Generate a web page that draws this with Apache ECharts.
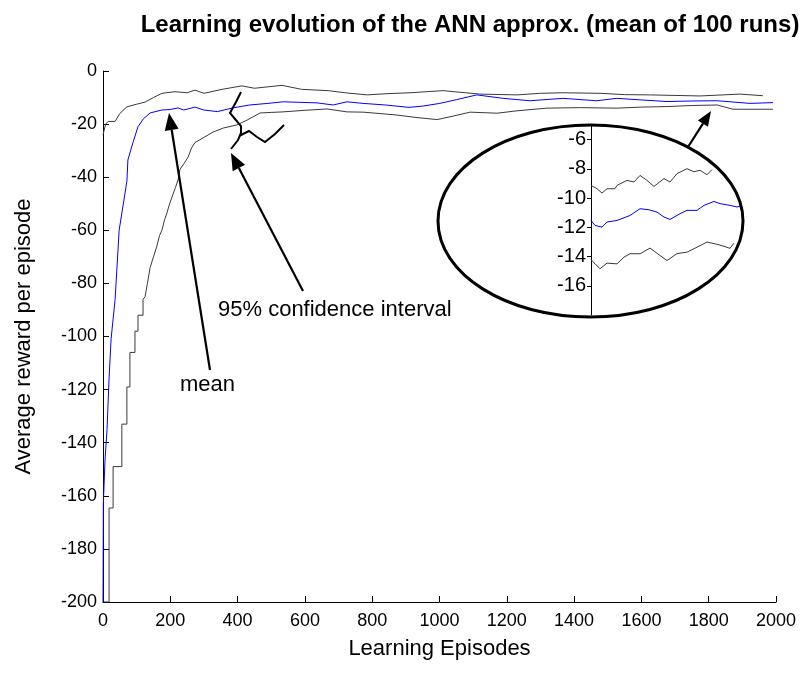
<!DOCTYPE html>
<html>
<head>
<meta charset="utf-8">
<script src="https://cdn.jsdelivr.net/npm/echarts@6/dist/echarts.min.js"></script>
<style>html,body{margin:0;padding:0;background:#fff}#c{width:808px;height:693px}</style>
</head>
<body>
<div id="c"></div>
<script>
// ---- data ----
var titleText = 'Learning evolution of the ANN approx. (mean of 100 runs)';
var xName = 'Learning Episodes';
var yName = 'Average reward per episode';

var meanCurve = [[0,-200],[1,-163],[6,-146.5],[12,-135],[18,-116],[24,-101],[36,-86],[48,-60],[71,-41.5],[74,-33.5],[89,-27],[104,-21],[120,-18],[140,-15.8],[175,-14.7],[200,-14.5],[223,-13.9],[240,-14.7],[273,-13.6],[300,-14.7],[340,-15.3],[386,-13.9],[436,-12.8],[490,-12.2],[535,-11.6],[585,-11.8],[636,-12],[684,-12.8],[725,-11.6],[773,-12.2],[839,-12.8],[909,-13.7],[951,-13.2],[1001,-12.2],[1050,-10.8],[1111,-9],[1189,-10.3],[1269,-11.2],[1367,-10.3],[1467,-11.2],[1527,-10.3],[1600,-10.9],[1676,-11.5],[1750,-11.3],[1825,-11.2],[1923,-12.2],[1991,-11.9]];

var upperCurve = [[0,-24],[8,-20],[15,-19],[36,-19],[50,-16],[71,-13.5],[100,-12.5],[125,-11.7],[150,-10],[175,-8.4],[214,-7.8],[250,-8.2],[273,-7.2],[300,-8.4],[354,-6.9],[413,-5.6],[450,-6.5],[532,-5.4],[590,-6.9],[669,-7.4],[720,-8.2],[785,-9],[850,-8.5],[912,-8.2],[1010,-7.4],[1120,-8.7],[1230,-9],[1300,-8.4],[1367,-8.2],[1477,-8.4],[1550,-8.9],[1627,-9],[1700,-9.2],[1774,-9.4],[1893,-8.7],[1961,-9.3]];

var lowerCurve = [[0,-200],[18,-200],[18,-164.6],[30,-164.6],[30,-149],[56,-149],[56,-133],[71,-133],[71,-119],[80,-119],[80,-106],[95,-106],[95,-98],[104,-98],[104,-92],[119,-92],[119,-86],[125,-85],[132,-80],[140,-74],[150,-70],[160,-66],[168,-62],[175,-60],[183,-56],[190,-53.5],[198,-50],[205,-47.5],[215,-44],[223,-41],[229,-37],[240,-35],[253,-32.4],[263,-29],[273,-27],[300,-25],[327,-23],[357,-21.5],[398,-20.3],[428,-18.5],[467,-15.8],[500,-15.6],[535,-15.4],[600,-14.8],[666,-14.3],[725,-15.4],[773,-15.5],[820,-16],[874,-16.6],[930,-17.5],[993,-18.3],[1040,-17],[1091,-15.5],[1171,-15.9],[1230,-15],[1319,-14],[1418,-13.8],[1527,-14],[1600,-13.6],[1676,-13.4],[1750,-13],[1825,-12.8],[1872,-14.4],[1991,-14.4]];

// inset (zoomed view of the converged part)
var insetUpper = [[0,-9.13],[6,-9.36],[11,-9.66],[16,-9.36],[24,-9.36],[26,-9.13],[36,-8.79],[43,-8.9],[49,-8.45],[56,-8.79],[63,-9.2],[73,-8.67],[79,-8.9],[86,-8.33],[96,-7.99],[103,-8.2],[109,-8.1],[116,-8.4],[121,-8.05]];
var insetMean = [[0,-11.53],[4,-11.87],[11,-11.99],[16,-11.64],[26,-11.53],[31,-11.4],[39,-11.19],[49,-10.73],[58,-10.8],[66,-10.96],[73,-11.3],[79,-11.46],[89,-11.07],[96,-10.84],[106,-10.84],[113,-10.5],[123,-10.23],[129,-10.38],[139,-10.5],[146,-10.61],[149,-10.55]];
var insetLower = [[0,-14.22],[4,-14.49],[9,-14.84],[16,-14.45],[26,-14.5],[33,-14.04],[39,-13.81],[49,-13.81],[59,-13.42],[69,-13.93],[76,-14.27],[86,-13.8],[96,-13.7],[106,-13.36],[116,-13.01],[126,-13.16],[133,-13.3],[139,-13.44],[143,-13.08]];
var insetTicks = [-16,-14,-12,-10,-8,-6];

// ---- chart ----
var FONT = 'Liberation Sans, Arial, sans-serif';
function arrow(tail, tip, len, half) {
  var dx = tip[0]-tail[0], dy = tip[1]-tail[1], L = Math.sqrt(dx*dx+dy*dy);
  var ux = dx/L, uy = dy/L, bx = tip[0]-ux*len, by = tip[1]-uy*len;
  return [
    {type:'line', shape:{x1:tail[0],y1:tail[1],x2:bx,y2:by}, style:{stroke:'#000',lineWidth:2.2}, z:100},
    {type:'polygon', shape:{points:[tip,[bx-uy*half,by+ux*half],[bx+uy*half,by-ux*half]]}, style:{fill:'#000'}, z:100}
  ];
}
var graphics = [];
graphics = graphics.concat(arrow([210,370],[169,113],17,7));
graphics = graphics.concat(arrow([303,291],[231,153],17,7));
graphics = graphics.concat(arrow([688,147],[711,111],15,6));
graphics.push({type:'polyline', shape:{points:[[241,92],[236,102],[230,113],[235,119],[241,126],[241,133],[238,140],[231,149]]}, style:{stroke:'#000',lineWidth:2,fill:null}, z:100});
graphics.push({type:'polyline', shape:{points:[[239,136],[249,131],[257,137],[265,142],[275,134],[284,125]]}, style:{stroke:'#000',lineWidth:2,fill:null}, z:100});
graphics.push({type:'ellipse', shape:{cx:590.5,cy:221,rx:152.5,ry:96}, style:{stroke:'#000',lineWidth:3,fill:'#fff'}, z:0});
graphics.push({type:'text', x:218, y:310, style:{text:'95% confidence interval', font:'22px '+FONT, fill:'#000', textVerticalAlign:'middle'}, z:100});
graphics.push({type:'text', x:180, y:385, style:{text:'mean', font:'22px '+FONT, fill:'#000', textVerticalAlign:'middle'}, z:100});

function plain(v){ return String(v); }

var chart = echarts.init(document.getElementById('c'), null, {renderer:'canvas'});
chart.setOption({
  animation:false,
  backgroundColor:'#fff',
  title:{text:titleText, left:465, top:8, textAlign:'center', textStyle:{fontFamily:FONT, fontSize:24, fontWeight:'bold', color:'#000'}},
  grid:[
    {left:103, top:71, width:673, height:531},
    {left:591, top:125, width:150, height:190}
  ],
  xAxis:[
    {gridIndex:0, type:'value', min:0, max:2000, interval:200, name:xName, nameLocation:'middle', nameGap:36,
     nameTextStyle:{fontFamily:FONT, fontSize:22, color:'#000'},
     axisLine:{onZero:false, lineStyle:{color:'#000', width:1}}, axisTick:{inside:true, length:6, lineStyle:{color:'#000'}},
     axisLabel:{fontFamily:FONT, fontSize:18, color:'#000', margin:10, formatter:plain}, splitLine:{show:false}},
    {gridIndex:1, type:'value', min:0, max:150, show:false}
  ],
  yAxis:[
    {gridIndex:0, type:'value', min:-200, max:0, interval:20, name:yName, nameLocation:'middle', nameGap:68,
     nameTextStyle:{fontFamily:FONT, fontSize:22, color:'#000'},
     axisLine:{show:true, onZero:false, lineStyle:{color:'#000', width:1}}, axisTick:{show:true, inside:true, length:6, lineStyle:{color:'#000'}},
     axisLabel:{fontFamily:FONT, fontSize:18, color:'#000', margin:6, formatter:plain}, splitLine:{show:false}},
    {gridIndex:1, type:'value', min:-18, max:-5, name:'',
     axisLine:{show:true, onZero:false, lineStyle:{color:'#000', width:1}},
     axisTick:{show:true, length:4, customValues:insetTicks, lineStyle:{color:'#000'}},
     axisLabel:{fontFamily:FONT, fontSize:20, color:'#000', margin:5, customValues:insetTicks}, splitLine:{show:false}}
  ],
  graphic:graphics,
  series:[
    {type:'line', xAxisIndex:0, yAxisIndex:0, data:upperCurve, showSymbol:false, lineStyle:{color:'#3a3a3a', width:1}, z:5},
    {type:'line', xAxisIndex:0, yAxisIndex:0, data:lowerCurve, showSymbol:false, lineStyle:{color:'#3a3a3a', width:1}, z:5},
    {type:'line', xAxisIndex:0, yAxisIndex:0, data:meanCurve, showSymbol:false, lineStyle:{color:'#0000ff', width:1}, z:6},
    {type:'line', xAxisIndex:1, yAxisIndex:1, data:insetUpper, showSymbol:false, lineStyle:{color:'#3a3a3a', width:1}, z:20},
    {type:'line', xAxisIndex:1, yAxisIndex:1, data:insetLower, showSymbol:false, lineStyle:{color:'#3a3a3a', width:1}, z:20},
    {type:'line', xAxisIndex:1, yAxisIndex:1, data:insetMean, showSymbol:false, lineStyle:{color:'#0000ff', width:1}, z:21}
  ]
});
</script>
</body>
</html>
